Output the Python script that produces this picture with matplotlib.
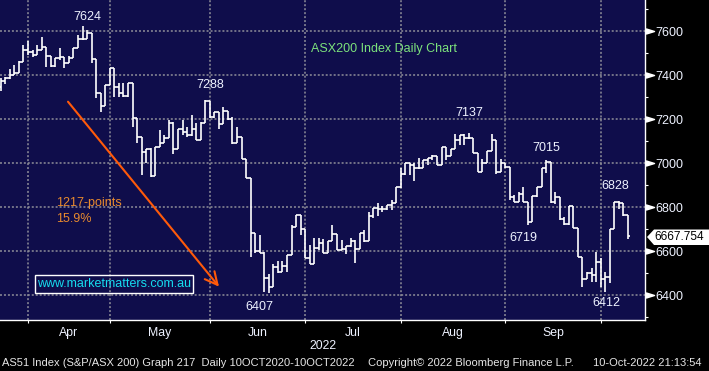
import matplotlib
matplotlib.use("Agg")
import matplotlib.pyplot as plt
import matplotlib.transforms as mtransforms
import numpy as np
import pandas as pd
from matplotlib.collections import LineCollection
from matplotlib.patches import Polygon, Rectangle
from matplotlib.path import Path

# ASX200 daily bars, 23 Mar 2022 - 10 Oct 2022
holidays = ["2022-04-15", "2022-04-18", "2022-04-25", "2022-06-13", "2022-09-22"]

opens = [
    7345, 7373, 7385, 7400, 7408, 7461, 7514, 7503, 7491, 7514,
    7529, 7486, 7441, 7476, 7480, 7453, 7476, 7521, 7564, 7564,
    7589, 7471, 7317, 7259, 7353, 7430, 7345, 7320, 7303, 7363,
    7203, 7117, 7052, 7062, 6941, 7071, 7089, 7112, 7183, 7062,
    7153, 7142, 7127, 7153, 7105, 7183, 7283, 7211, 7232, 7177,
    7235, 7202, 7092, 7120, 7017, 6930, 6683, 6602, 6592, 6476,
    6435, 6526, 6506, 6532, 6582, 6708, 6762, 6699, 6567, 6541,
    6612, 6635, 6592, 6647, 6677, 6605, 6608, 6623, 6647, 6608,
    6683, 6647, 6759, 6794, 6789, 6789, 6809, 6820, 6889, 6950,
    7002, 6991, 6976, 6976, 7014, 7021, 7032, 6991, 7074, 7032,
    7062, 7105, 7127, 7112, 7112, 7047, 6961, 6999, 7056, 7105,
    6961, 6999, 6983, 6844, 6824, 6859, 6824, 6733, 6850, 6893,
    6976, 7006, 6824, 6844, 6744, 6723, 6805, 6703, 6574, 6471,
    6502, 6491, 6552, 6474, 6480, 6699, 6824, 6820, 6764,
]
highs = [
    7385, 7392, 7426, 7445, 7463, 7536, 7556, 7514, 7536, 7574,
    7529, 7486, 7478, 7521, 7480, 7486, 7523, 7582, 7624, 7605,
    7589, 7471, 7317, 7355, 7432, 7430, 7365, 7365, 7365, 7365,
    7203, 7117, 7062, 7067, 7071, 7150, 7127, 7195, 7185, 7155,
    7195, 7165, 7218, 7180, 7185, 7288, 7283, 7232, 7232, 7253,
    7235, 7208, 7162, 7120, 7017, 6930, 6683, 6671, 6595, 6496,
    6541, 6556, 6556, 6582, 6718, 6762, 6762, 6699, 6627, 6658,
    6658, 6653, 6647, 6718, 6677, 6650, 6623, 6658, 6650, 6683,
    6695, 6779, 6794, 6817, 6804, 6809, 6832, 6889, 6976, 7002,
    7002, 7002, 7021, 7014, 7021, 7037, 7032, 7074, 7074, 7062,
    7132, 7127, 7132, 7137, 7112, 7047, 7017, 7056, 7132, 7105,
    7017, 6999, 6983, 6854, 6870, 6892, 6824, 6850, 6893, 6976,
    7015, 7006, 6870, 6844, 6756, 6805, 6805, 6703, 6574, 6506,
    6521, 6597, 6567, 6506, 6699, 6824, 6829, 6820, 6764,
]
lows = [
    7329, 7358, 7383, 7400, 7408, 7461, 7491, 7483, 7491, 7514,
    7438, 7438, 7438, 7468, 7430, 7453, 7476, 7521, 7560, 7564,
    7456, 7294, 7233, 7259, 7353, 7302, 7302, 7300, 7300, 7165,
    7092, 6946, 6999, 6938, 6941, 7071, 7089, 7112, 7041, 7062,
    7127, 7120, 7125, 7103, 7105, 7183, 7203, 7203, 7153, 7177,
    7196, 7086, 7092, 7017, 6930, 6574, 6592, 6592, 6415, 6407,
    6435, 6499, 6506, 6506, 6582, 6708, 6671, 6567, 6541, 6541,
    6605, 6592, 6592, 6647, 6605, 6605, 6586, 6617, 6544, 6608,
    6642, 6647, 6749, 6759, 6779, 6786, 6786, 6820, 6885, 6945,
    6945, 6920, 6972, 6976, 6991, 7014, 6991, 6991, 7016, 7032,
    7062, 7082, 7082, 7108, 7044, 6961, 6961, 6999, 7056, 6950,
    6961, 6978, 6832, 6824, 6824, 6824, 6719, 6733, 6847, 6893,
    6953, 6817, 6814, 6741, 6718, 6720, 6703, 6574, 6438, 6471,
    6461, 6461, 6438, 6412, 6456, 6699, 6789, 6759, 6653,
]
closes = [
    7373, 7385, 7400, 7408, 7461, 7514, 7503, 7491, 7514, 7529,
    7486, 7441, 7476, 7480, 7453, 7476, 7521, 7564, 7564, 7589,
    7471, 7317, 7259, 7353, 7430, 7345, 7320, 7303, 7363, 7203,
    7117, 7052, 7062, 6941, 7071, 7089, 7112, 7183, 7062, 7153,
    7142, 7127, 7153, 7105, 7183, 7283, 7211, 7232, 7177, 7235,
    7202, 7092, 7120, 7017, 6930, 6683, 6602, 6592, 6476, 6435,
    6526, 6506, 6532, 6582, 6708, 6762, 6699, 6567, 6541, 6612,
    6635, 6592, 6647, 6677, 6605, 6608, 6623, 6647, 6608, 6683,
    6647, 6759, 6794, 6789, 6789, 6809, 6820, 6889, 6950, 7002,
    6991, 6976, 6976, 7014, 7021, 7032, 6991, 7074, 7032, 7062,
    7105, 7127, 7112, 7112, 7047, 6961, 6999, 7056, 7105, 6961,
    6999, 6983, 6844, 6824, 6859, 6824, 6733, 6850, 6893, 6976,
    7006, 6824, 6844, 6744, 6723, 6805, 6703, 6574, 6471, 6502,
    6491, 6552, 6474, 6480, 6699, 6824, 6820, 6764, 6667.754,
]

y_ticks = [6400, 6600, 6800, 7000, 7200, 7400, 7600]
y_minor = [6300, 6500, 6700, 6900, 7100, 7300, 7500, 7700]

NAVY = "#0f0d4b"
TXT = "#eef2ff"
FONT = "Liberation Sans"
W, H = 709, 371

plt.rcParams["font.family"] = [FONT, "DejaVu Sans"]

dates = pd.bdate_range("2022-03-23", "2022-10-10")
dates = dates[~dates.isin(pd.to_datetime(holidays))]


def fpos(px, py):
    # figure pixel (top-left origin) -> figure fraction
    return px / W, 1 - py / H


fig = plt.figure(figsize=(W / 100, H / 100), dpi=100, facecolor="black")
ax = fig.add_axes([0, 1 - 320 / H, 645 / W, 320 / H])
ax.set_facecolor(NAVY)

segs = []
for i, (o, h, l, c) in enumerate(zip(opens, highs, lows, closes)):
    segs.append([(i, l), (i, h)])
    segs.append([(i - 0.5, o), (i, o)])
    segs.append([(i, c), (i + 0.5, c)])
ax.add_collection(LineCollection(segs, colors="white", linewidths=1.2, zorder=3))

ax.set_xlim(-0.154, 141.76)
ax.set_ylim(6286.5, 7741)

# month grid at last trading day of each month, labels centred between
month_end = [i for i in range(len(dates) - 1) if dates[i].month != dates[i + 1].month]
mids = [(a + b) / 2 for a, b in zip(month_end[:-1], month_end[1:])]
mlabels = [dates[b].strftime("%b") for b in month_end[1:]]
ax.set_xticks(month_end)
ax.set_xticklabels([])
ax.set_xticks(mids, minor=True)
ax.set_xticklabels(mlabels, minor=True)
ax.tick_params(axis="x", which="major", direction="out", length=2.2, width=0.8, color="white")
ax.tick_params(axis="x", which="minor", length=0, pad=4.8, labelsize=8.8, labelcolor=TXT)

ax.yaxis.tick_right()
ax.set_yticks(y_ticks)
ax.set_yticks(y_minor, minor=True)
ax.tick_params(axis="y", which="major", length=0, pad=7.5, labelsize=9, labelcolor=TXT)
ax.tick_params(axis="y", which="minor", length=2.2, width=0.8, color="white", direction="out")

ax.grid(True, which="major", color="#8e8e98", linestyle=(0, (1.3, 1.3)), linewidth=1.1)
ax.set_axisbelow(True)

for s in ["top", "left"]:
    ax.spines[s].set_visible(False)
for s in ["right", "bottom"]:
    ax.spines[s].set_color("white")
    ax.spines[s].set_linewidth(1.0)

# triangular major tick marks on the price scale
tri = Path([(-1, -0.62), (1, 0), (-1, 0.62), (-1, -0.62)],
           [Path.MOVETO, Path.LINETO, Path.LINETO, Path.CLOSEPOLY])
trans = mtransforms.blended_transform_factory(ax.transAxes, ax.transData)
ax.plot([1 + 4.5 / 645] * len(y_ticks), y_ticks, ls="none", marker=tri, ms=5.8,
        color="white", transform=trans, clip_on=False)

# last price tag
tag = [fpos(647, 237), fpos(654, 229.5), fpos(709, 229.5), fpos(709, 245), fpos(654, 245)]
fig.patches.append(Polygon(tag, closed=True, transform=fig.transFigure,
                           facecolor="white", edgecolor="none"))
fig.text(*fpos(654, 237.5), f"{closes[-1]:.3f}", color="black", fontsize=8.6,
         va="center", ha="left")

# value labels
for txt, px, py in [("7624", 87, 17), ("7288", 210, 85), ("7137", 469, 113),
                    ("7015", 546, 148), ("6828", 615, 186), ("6719", 523, 238),
                    ("6412", 606, 303), ("6407", 259.5, 307)]:
    fig.text(*fpos(px, py), txt, color=TXT, fontsize=9, ha="center", va="center")

fig.text(*fpos(384, 49), "ASX200 Index Daily Chart", color="#7ce27c", fontsize=9,
         ha="center", va="center")
fig.text(*fpos(56, 203), "1217-points", color="#e88a2e", fontsize=9, ha="left", va="center")
fig.text(*fpos(56, 218.5), "15.9%", color="#e88a2e", fontsize=9, ha="left", va="center")

ax.annotate("", xy=(219 / W, 1 - 286.7 / H), xytext=(68 / W, 1 - 101.7 / H),
            xycoords="figure fraction", textcoords="figure fraction",
            arrowprops=dict(arrowstyle="->,head_length=0.9,head_width=0.45",
                            color="#ff5a0a", lw=1.5, shrinkA=0, shrinkB=0))

fig.patches.append(Rectangle(fpos(35, 293.3), 158 / W, 18 / H, transform=fig.transFigure,
                             facecolor="none", edgecolor="white", linewidth=1.0))
fig.text(*fpos(114, 284.3), "www.marketmatters.com.au", color="#16dcef", fontsize=9,
         ha="center", va="center")

fig.text(*fpos(323, 346), "2022", color=TXT, fontsize=8.8, ha="center", va="center")

fig.text(*fpos(2, 362.5), "AS51 Index (S&P/ASX 200) Graph 217  Daily 10OCT2020-10OCT2022",
         color="#e6e6e6", fontsize=8.0, ha="left", va="center")
fig.text(*fpos(368, 362.5), "Copyright\u00a9 2022 Bloomberg Finance L.P.",
         color="#e6e6e6", fontsize=8.0, ha="left", va="center")
fig.text(*fpos(593, 362.5), "10-Oct-2022 21:13:54",
         color="#e6e6e6", fontsize=8.0, ha="left", va="center")

fig.savefig("out.png", dpi=100, facecolor="black")
